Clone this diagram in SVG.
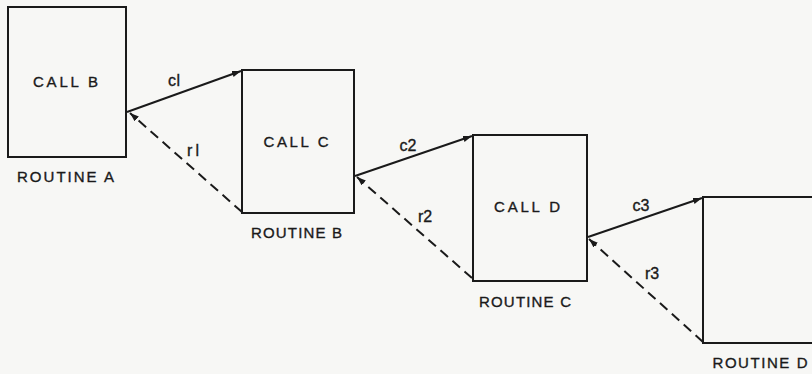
<svg xmlns="http://www.w3.org/2000/svg" width="812" height="374" viewBox="0 0 812 374">
<style>
.box{fill:none;stroke:#1a1a1a;stroke-width:2}
.lbl{font-family:"Liberation Sans",Arial,sans-serif;font-size:15px;fill:#1a1a1a;stroke:#1a1a1a;stroke-width:0.35;text-anchor:middle}
.sm{font-family:"Liberation Sans",Arial,sans-serif;font-size:16px;fill:#1a1a1a;stroke:#1a1a1a;stroke-width:0.35;text-anchor:middle}
.call{fill:none;stroke:#1a1a1a;stroke-width:2;marker-end:url(#ah)}
.ret{fill:none;stroke:#1a1a1a;stroke-width:2;stroke-dasharray:10 6;marker-end:url(#ah)}
</style>
<defs>
<marker id="ah" markerUnits="userSpaceOnUse" markerWidth="10" markerHeight="8" refX="9" refY="4" orient="auto">
<path d="M0,0.8 L9,4 L0,7.2 Z" fill="#1a1a1a"/>
</marker>
</defs>
<rect width="812" height="374" fill="#f7f7f5"/>
<g id="routineA">
<rect class="box" x="8" y="7" width="118" height="150"/>
<text class="lbl" x="65.5" y="87" textLength="65" lengthAdjust="spacing">CALL B</text>
<text class="lbl" x="65.5" y="182" textLength="97" lengthAdjust="spacing">ROUTINE A</text>
</g>
<g id="routineB">
<rect class="box" x="242" y="70" width="112" height="143"/>
<text class="lbl" x="296" y="147" textLength="65" lengthAdjust="spacing">CALL C</text>
<text class="lbl" x="296.5" y="238" textLength="91" lengthAdjust="spacing">ROUTINE B</text>
</g>
<g id="routineC">
<rect class="box" x="473" y="135" width="114" height="146"/>
<text class="lbl" x="527" y="212" textLength="66" lengthAdjust="spacing">CALL D</text>
<text class="lbl" x="525" y="307" textLength="92" lengthAdjust="spacing">ROUTINE C</text>
</g>
<g id="routineD">
<path class="box" d="M830,197 H703 V343 H830"/>
<text class="lbl" x="760" y="368" textLength="95" lengthAdjust="spacing">ROUTINE D</text>
</g>
<g id="connectors">
<line class="call" x1="127" y1="112" x2="241" y2="71"/>
<line class="ret" x1="242" y1="212" x2="130" y2="113"/>
<line class="call" x1="355" y1="176" x2="472" y2="136"/>
<line class="ret" x1="472" y1="278" x2="357" y2="177"/>
<line class="call" x1="588" y1="237" x2="702" y2="198"/>
<line class="ret" x1="703" y1="342" x2="589" y2="239"/>
<text class="sm" x="174" y="86" textLength="12" lengthAdjust="spacing">cl</text>
<text class="sm" x="193" y="156" textLength="12" lengthAdjust="spacing">rl</text>
<text class="sm" x="408" y="151">c2</text>
<text class="sm" x="425" y="222">r2</text>
<text class="sm" x="641" y="211">c3</text>
<text class="sm" x="652" y="279">r3</text>
</g>
</svg>
